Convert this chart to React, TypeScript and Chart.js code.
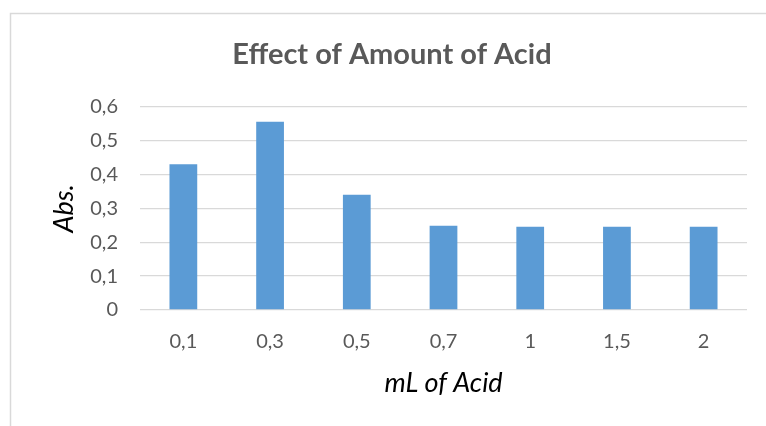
import React, { useEffect, useRef } from "react";
import { Chart, registerables } from "chart.js";

Chart.register(...registerables);

const categories = ["0,1", "0,3", "0,5", "0,7", "1", "1,5", "2"];
const absValues = [0.43, 0.556, 0.34, 0.249, 0.246, 0.246, 0.246];
const chartTitle = "Effect of Amount of Acid";
const xTitle = "mL of Acid";
const yTitle = "Abs.";

const FONT = "Lato, 'Open Sans', sans-serif";

// Light grey frame whose top and left edges sit inside the canvas
const framePlugin = {
  id: "frame",
  beforeDraw(chart: Chart) {
    const { ctx, width, height } = chart;
    ctx.save();
    ctx.fillStyle = "#ffffff";
    ctx.fillRect(0, 0, width, height);
    ctx.strokeStyle = "#d9d9d9";
    ctx.lineWidth = 1.5;
    ctx.strokeRect(10.5, 13.5, width + 20, height + 20);
    ctx.restore();
  },
};

export default function App() {
  const canvasRef = useRef<HTMLCanvasElement | null>(null);

  useEffect(() => {
    if (!canvasRef.current) return;
    const chart = new Chart(canvasRef.current, {
      type: "bar",
      data: {
        labels: categories,
        datasets: [
          {
            data: absValues,
            backgroundColor: "#5b9bd5",
            borderWidth: 0,
            barPercentage: 0.32,
            categoryPercentage: 1,
          },
        ],
      },
      options: {
        responsive: false,
        animation: false,
        layout: { padding: { left: 37, right: 19, top: 0, bottom: 0 } },
        plugins: {
          legend: { display: false },
          tooltip: { enabled: false },
          title: {
            display: true,
            text: chartTitle,
            color: "#595959",
            font: { family: FONT, size: 29, weight: "bold" },
            padding: { top: 37, bottom: 35 },
          },
        },
        scales: {
          x: {
            grid: { display: false },
            border: { display: false },
            ticks: {
              color: "#595959",
              font: { family: FONT, size: 20 },
              padding: 12,
            },
            title: {
              display: true,
              text: xTitle,
              color: "#000000",
              font: { family: FONT, size: 27, style: "italic" },
              padding: { top: 8, bottom: 27 },
            },
            afterFit: (scale: any) => {
              scale.height = 116;
            },
          },
          y: {
            min: 0,
            max: 0.6,
            ticks: {
              stepSize: 0.1,
              color: "#595959",
              font: { family: FONT, size: 20 },
              padding: 22,
              callback: (v: any) => String(Math.round(Number(v) * 10) / 10).replace(".", ","),
            },
            grid: { color: "#d9d9d9", lineWidth: 1.3, drawTicks: false },
            border: { display: false },
            title: {
              display: true,
              text: yTitle,
              color: "#000000",
              font: { family: FONT, size: 27, style: "italic" },
              padding: { top: 11, bottom: 0 },
            },
            afterFit: (scale: any) => {
              scale.width = 103;
            },
          },
        },
      },
      plugins: [framePlugin],
    });
    return () => chart.destroy();
  }, []);

  return (
    <div style={{ position: "fixed", left: 0, top: 0, width: 766, height: 426, background: "#fff" }}>
      <canvas ref={canvasRef} width={766} height={426} style={{ width: 766, height: 426, display: "block" }} />
    </div>
  );
}
